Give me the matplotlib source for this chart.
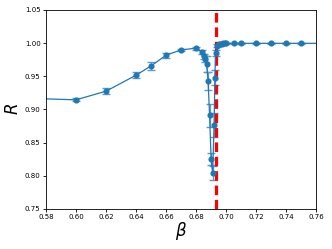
import matplotlib
matplotlib.use("Agg")
import matplotlib.pyplot as plt

beta = [0.55, 0.60, 0.62, 0.64, 0.65, 0.66, 0.67, 0.68, 0.684, 0.685, 0.686, 0.687, 0.688,
        0.689, 0.690, 0.691, 0.692, 0.6925, 0.693, 0.694, 0.695, 0.696, 0.697, 0.698, 0.699,
        0.700, 0.705, 0.710, 0.720, 0.730, 0.740, 0.750, 0.80]
R = [0.918, 0.9145, 0.9276, 0.9517, 0.9657, 0.9818, 0.9898, 0.9923, 0.9870, 0.9800, 0.9760,
     0.9680, 0.9430, 0.8910, 0.8250, 0.8040, 0.8760, 0.9480, 0.9850, 0.9960, 0.9980, 0.9990,
     0.9993, 0.9995, 0.9996, 0.9997, 0.9997, 0.9997, 0.9997, 0.9997, 0.9997, 0.9997, 0.9997]
R_err = [0.001, 0.002, 0.004, 0.005, 0.006, 0.004, 0.002, 0.002, 0.003, 0.004, 0.005,
         0.012, 0.014, 0.017, 0.009, 0.010, 0.018, 0.011, 0.004, 0.002, 0.001, 0.001,
         0.0005, 0.0005, 0.0005, 0.0005, 0.0003, 0.0003, 0.0003, 0.0003, 0.0003, 0.0003, 0.0003]
beta_c = 0.693

fig = plt.figure(figsize=(3.32, 2.49), dpi=100)
ax = fig.add_axes([0.139, 0.161, 0.813, 0.799])
ax.errorbar(beta, R, yerr=R_err, fmt='-o', color='#1f77b4', ecolor='#5a9bd0',
            markersize=3.4, linewidth=0.9, elinewidth=0.9, capsize=3)
ax.axvline(beta_c, color='red', linestyle=(0, (3, 1.5)), linewidth=2.3)
ax.set_xlim(0.58, 0.76)
ax.set_ylim(0.75, 1.05)
ax.set_xticks([0.58, 0.60, 0.62, 0.64, 0.66, 0.68, 0.70, 0.72, 0.74, 0.76])
ax.set_yticks([0.75, 0.80, 0.85, 0.90, 0.95, 1.00, 1.05])
ax.set_xticklabels(['0.58', '0.60', '0.62', '0.64', '0.66', '0.68', '0.70', '0.72', '0.74', '0.76'])
ax.set_yticklabels(['0.75', '0.80', '0.85', '0.90', '0.95', '1.00', '1.05'])
ax.tick_params(labelsize=5, length=2, width=0.6, pad=2)
for s in ax.spines.values():
    s.set_linewidth(0.6)
ax.set_xlabel(r'$\beta$', fontsize=12, labelpad=0)
ax.set_ylabel(r'$R$', fontsize=12, labelpad=2)
fig.savefig('out.png', dpi=100)
